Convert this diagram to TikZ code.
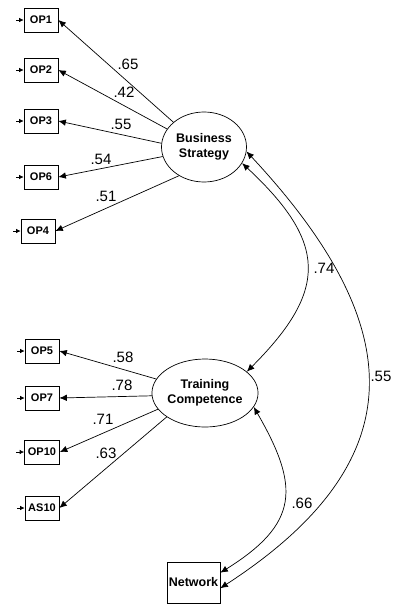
\documentclass[tikz,border=0pt]{standalone}
\usepackage{fontspec}
\setmainfont{Liberation Sans}
\usetikzlibrary{arrows.meta,shapes.geometric}
\begin{document}
\begin{tikzpicture}[x=1pt,y=1pt,
  line width=0.7pt,
  obs/.style={draw, rectangle, minimum width=34pt, minimum height=24pt, inner sep=0pt,
              font=\fontsize{11}{12}\selectfont\bfseries},
  latent/.style={draw, ellipse, minimum width=85pt, minimum height=70pt, inner sep=0pt,
                 align=center, font=\fontsize{12.5}{15}\selectfont\bfseries},
  load/.style={-{Latex[length=7.5pt,width=6.5pt]}},
  cov/.style={{Latex[length=7.5pt,width=6.5pt]}-{Latex[length=7.5pt,width=6.5pt]}},
  err/.style={{Latex[length=4.5pt,width=4.5pt]}-},
  coef/.style={font=\fontsize{15}{17}\selectfont, inner sep=0pt}
]
\useasboundingbox (0,0) rectangle (392,-605);

% indicator boxes
\node[obs] (OP1)  at (41,-20)  {OP1};
\node[obs] (OP2)  at (41,-70)  {OP2};
\node[obs] (OP3)  at (41,-121) {OP3};
\node[obs] (OP6)  at (41,-177) {OP6};
\node[obs] (OP4)  at (38,-231) {OP4};
\node[obs] (OP5)  at (42,-351) {OP5};
\node[obs] (OP7)  at (42,-398) {OP7};
\node[obs, minimum width=35pt] (OP10) at (42,-452) {OP10};
\node[obs] (AS10) at (42,-508) {AS10};

% latent factors
\node[latent] (BS) at (204,-147) {Business\\Strategy};
\node[latent, minimum height=68pt] (TC) at (205,-393) {Training\\Competence};

% observed variable
\node[draw, rectangle, minimum width=53pt, minimum height=41pt, inner sep=0pt,
      font=\fontsize{12.5}{15}\selectfont\bfseries] (NW) at (193.5,-582.5) {Network};

% error terms
\foreach \n in {OP1,OP2,OP3,OP6,OP4,OP5,OP7,OP10,AS10}
  \draw[err] (\n.west) -- ++(-8,0);

% loadings
\draw[load] (BS.141)  -- (OP1.east);
\draw[load] (BS.154)  -- (OP2.east);
\draw[load] (BS.175)  -- (OP3.east);
\draw[load] (BS.-167) -- (OP6.east);
\draw[load] (BS.-131) -- (OP4.east);
\draw[load] (TC.164)  -- (OP5.east);
\draw[load] (TC.183)  -- (OP7.east);
\draw[load] (TC.199)  -- (OP10.east);
\draw[load] (TC.212)  -- (AS10.east);

% correlations
\draw[cov] (BS.-23) to[out=-43, in=45, looseness=1.42] (TC.27);
\draw[cov] (BS.-6)  to[out=-47, in=33, looseness=1.38] (NW.-12);
\draw[cov] (TC.-16) to[out=-60, in=32, looseness=1.4]  (NW.20);

% coefficients
\node[coef] (c1)  at (128,-64)  {.65};
\node[coef] (c2)  at (124,-92)  {.42};
\node[coef] (c3)  at (121,-124) {.55};
\node[coef] (c4)  at (101,-159) {.54};
\node[coef] (c5)  at (106,-196) {.51};
\node[coef] (c6)  at (123,-357) {.58};
\node[coef] (c7)  at (122,-385) {.78};
\node[coef] (c8)  at (103,-419) {.71};
\node[coef] (c9)  at (106,-453) {.63};
\node[coef] (c10) at (324,-268) {.74};
\node[coef] (c11) at (381,-376) {.55};
\node[coef] (c12) at (302,-503) {.66};
\end{tikzpicture}
\end{document}
